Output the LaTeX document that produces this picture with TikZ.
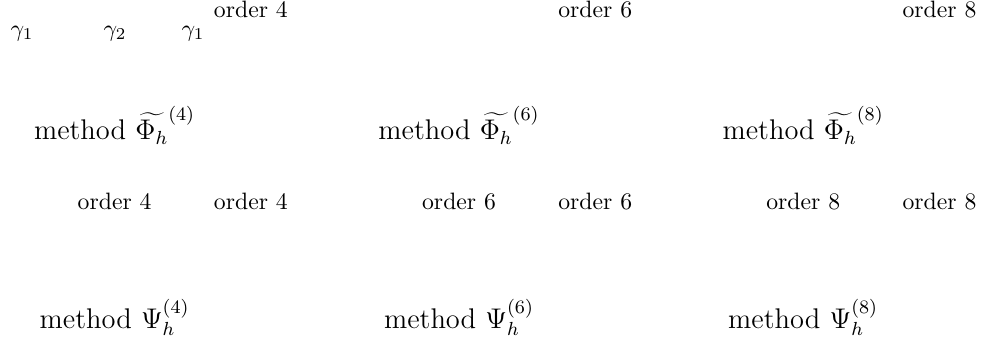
\documentclass[tikz,border=0pt]{standalone}
\usepackage{tikz}
\usetikzlibrary{positioning}

\begin{document}
\begin{tikzpicture}[
    % Method label style
    methodlbl/.style={
        font=\large,
        anchor=base,
        inner sep=0pt
    },
    % Order label style
    orderlbl/.style={
        anchor=base,
        inner sep=0pt
    },
    % Coefficient label style
    coeflbl/.style={
        anchor=base,
        inner sep=0pt
    }
]

\useasboundingbox (0,0) rectangle (14.65,5.145);

% ============================================
% COEFFICIENTS OF THE COMPOSITION
% ============================================

\node[coeflbl] (gammaA) at (0.326, 4.611) {$\gamma_1$};
\node[coeflbl] (gammaB) at (1.705, 4.611) {$\gamma_2$};
\node[coeflbl] (gammaC) at (2.862, 4.611) {$\gamma_1$};

% ============================================
% COMPOSED METHODS (orders 4, 6, 8)
% ============================================

\foreach \ord/\x in {4/1.70, 6/6.807, 8/11.91} {
    % order of the method above
    \node[orderlbl] (topord\ord) at (\x+2.02, 4.878) {order \ord};
    % method Phi tilde
    \node[methodlbl] (phi\ord) at (\x, 3.069)
        {method $\widetilde{\Phi_h}^{(\ord)}$};
    % orders of the two parts
    \node[orderlbl] (ordA\ord) at (\x, 2.031) {order \ord};
    \node[orderlbl] (ordB\ord) at (\x+2.02, 2.031) {order \ord};
    % method Psi
    \node[methodlbl] (psi\ord) at (\x, 0.281)
        {method $\Psi_h^{(\ord)}$};
}

\end{tikzpicture}
\end{document}
